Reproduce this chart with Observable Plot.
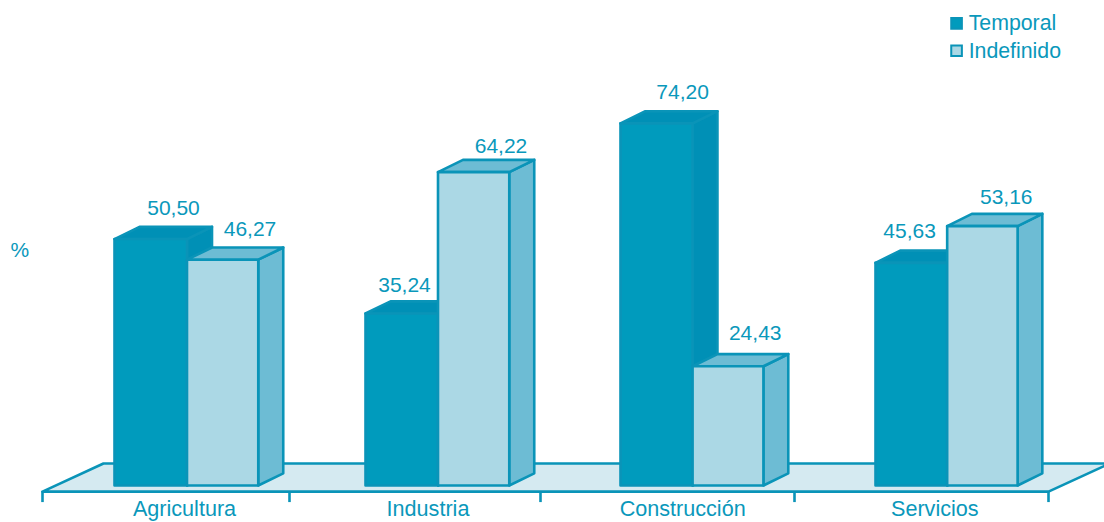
<!DOCTYPE html>
<html><head><meta charset="utf-8">
<style>html,body{margin:0;padding:0;background:#fff;overflow:hidden}svg{display:block}</style>
<script src="https://cdn.jsdelivr.net/npm/d3@7"></script>
<script src="https://cdn.jsdelivr.net/npm/@observablehq/plot@0.6"></script>
</head><body><div id="chart"></div>
<script>
const categories = ["Agricultura", "Industria", "Construcción", "Servicios"];
const temporal = [50.50, 35.24, 74.20, 45.63];
const indefinido = [46.27, 64.22, 24.43, 53.16];
const seriesNames = ["Temporal", "Indefinido"];

// layout, in axis units
const color = {ink:"#0a98bb", darkFront:"#009bbd", darkSide:"#0090b6", lightFront:"#abd8e5", lightSide:"#6dbcd4", floor:"#d5eaf1", stroke:"#0a94b8"};
const wT = 0.29, wAll = 0.575, depthX = 0.1, depthY = 2.5;
const floorFront = -1.25, floorBack = 4.5, tickEnd = -3.5;
const boundaries = [-0.3, 0.7, 1.7, 2.7, 3.7];
const catLabelX = [0.28, 1.25, 2.25, 3.24];
const tLabelX = [0.236, 0.156, 0.25, 0.138];
const iLabelX = [0.252, 0.252, 0.252, 0.239];
const tRise = [6.3, 5.8, 6.3, 6.5];
const iRise = [6.3, 5.2, 6.7, 5.9];
const lw = 2.6;

const poly = (pts, fill) => Plot.line([...pts, pts[0]].map(([x,y]) => ({x,y})), {x:"x", y:"y", fill, stroke:color.stroke, strokeWidth:lw, strokeLinejoin:"round"});
function box(x0, x1, v, front, side) {
  return [
    poly([[x1,0],[x1+depthX,depthY],[x1+depthX,v+depthY],[x1,v]], side),
    poly([[x0,v],[x0+depthX,v+depthY],[x1+depthX,v+depthY],[x1,v]], side),
    poly([[x0,0],[x1,0],[x1,v],[x0,v]], front)
  ];
}
const bars = categories.flatMap((c,i) => [
  ...box(i, i+wT, temporal[i], color.darkFront, color.darkSide),
  ...box(i+wT, i+wAll, indefinido[i], color.lightFront, color.lightSide)
]);
const table = categories.flatMap((c,i) => [
  {x:i+tLabelX[i], y:temporal[i]+tRise[i], t:temporal[i].toFixed(2).replace(".",",")},
  {x:i+wT+iLabelX[i], y:indefinido[i]+iRise[i], t:indefinido[i].toFixed(2).replace(".",",")}
]);
const textOpts = {fill:color.ink, fontSize:21, fontFamily:"Liberation Sans, Arial, sans-serif"};

const plot = Plot.plot({
  width:1104, height:522, margin:0,
  style:{background:"#fff", overflow:"hidden"},
  x:{axis:null, type:"linear", domain:[-0.3,0,0.7,1,1.7,2,2.7,3,3.7], range:[42,114,289,365,540,620,794,875,1048]},
  y:{axis:null, type:"linear", domain:[0,100], range:[485,-3]},
  marks:[
    Plot.line([{x:-0.3,y:floorFront},{x:-0.046,y:floorBack},{x:3.947,y:floorBack},{x:3.7,y:floorFront},{x:-0.3,y:floorFront}],
      {x:"x",y:"y",fill:color.floor,stroke:color.stroke,strokeWidth:lw}),
    Plot.ruleX(boundaries,{y1:floorFront,y2:tickEnd,stroke:color.stroke,strokeWidth:lw}),
    ...bars,
    Plot.text(table,{x:"x",y:"y",text:"t",...textOpts}),
    Plot.text(categories,{text:d=>d,...textOpts,fontSize:21.6,
      x:(d,i)=>catLabelX[i], y:()=>-4.8}),
    Plot.text(["%"],{x:()=>-0.433,y:()=>48.2,text:d=>d,textAnchor:"start",...textOpts}),
    Plot.dot(seriesNames,{x:()=>3.328,y:(d,i)=>[94.7,89.1][i],symbol:"square",r:6,strokeWidth:2,
      stroke:color.stroke,fill:(d,i)=>[color.darkFront,color.lightFront][i]}),
    Plot.text(seriesNames,{x:()=>3.377,y:(d,i)=>[94.7,89.1][i],text:d=>d,textAnchor:"start",...textOpts,fontSize:21.3})
  ]
});
document.getElementById("chart").append(plot);
</script></body></html>
